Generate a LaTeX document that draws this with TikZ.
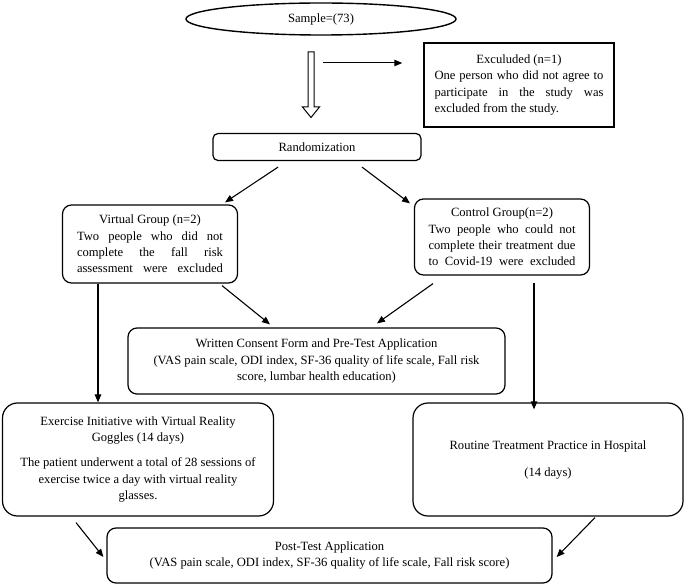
\documentclass[tikz,border=0pt]{standalone}
\usepackage{fontspec}
\setmainfont{Liberation Serif}
\usetikzlibrary{shapes.geometric,arrows.meta}
\newcommand{\fillline}[1]{\makebox[\linewidth][s]{\spaceskip=0pt\xspaceskip=0pt #1}}

\begin{document}
\begin{tikzpicture}[x=1pt, y=-1pt,
    every node/.style = {font=\fontsize{12.6}{16.3}\selectfont, execute at begin node={\spaceskip=0pt\xspaceskip=0pt}},
    box/.style = {draw, line width=1.2pt, rounded corners=9pt, align=center, inner sep=0pt},
    arr/.style = {-{Triangle[length=8pt,width=6.5pt]}, line width=1.1pt}]
  \useasboundingbox (0,0) rectangle (685,585);
  % top part
  \node[draw, ellipse, line width=1.4pt, minimum width=270pt, minimum height=32pt, inner sep=0pt] (sample) at (321,19) {Sample=(73)};
  \node[draw, line width=1.5pt, align=justify, text width=169pt, minimum width=190pt, minimum height=84pt, inner sep=0pt] (excl) at (519,85)
    {\makebox[\linewidth]{Exculuded (n=1)}\\ \fillline{One person who did not agree to}\\ \fillline{participate in the study was}\\ excluded from the study.};
  \node[box, rounded corners=5pt, minimum width=208pt, minimum height=27pt] (rand) at (317,147) {Randomization};
  \node[box, align=justify, text width=146pt, minimum width=175pt, minimum height=78pt] (virt) at (150,244)
    {\makebox[\linewidth]{Virtual Group (n=2)}\\ \fillline{Two people who did not}\\ \fillline{complete the fall risk}\\ \fillline{assessment were excluded}};
  \node[box, align=justify, text width=147pt, minimum width=175pt, minimum height=76pt] (ctrl) at (502,237)
    {\makebox[\linewidth]{Control Group(n=2)}\\ \fillline{Two people who could not}\\ \fillline{complete their treatment due}\\ \fillline{to Covid-19 were excluded}};
  \node[box, minimum width=377pt, minimum height=66pt] (cons) at (316.5,361)
    {Written Consent Form and Pre-Test Application\\(VAS pain scale, ODI index, SF-36 quality of life scale, Fall risk\\score, lumbar health education)};
  % groups
  \node[box, rounded corners=15pt, minimum width=271pt, minimum height=113pt] (exer) at (138,459.5)
    {Exercise Initiative with Virtual Reality\\Goggles (14 days)\\[8.5pt]The patient underwent a total of 28 sessions of\\exercise twice a day with virtual reality\\glasses.};
  \node[box, rounded corners=15pt, minimum width=270pt, minimum height=113pt] (rout) at (548,459.5)
    {Routine Treatment Practice in Hospital\\[10.7pt](14 days)};
  \node[box, minimum width=445pt, minimum height=55pt] (post) at (329.5,555.5)
    {Post-Test Application\\(VAS pain scale, ODI index, SF-36 quality of life scale, Fall risk score)};

  % hollow arrow and exclusion arrow
  \coordinate (hol) at (311,52);
  \coordinate (brk) at (323,63);
  \draw[line width=1pt] (hol) ++(-3,0) -- ++(0,55) -- ++(-5.5,0) -- ++(8.5,10.5) -- ++(8.5,-10.5) -- ++(-5.5,0) -- ++(0,-55) -- cycle;
  \draw[arr, line width=1pt] (brk) -- ([xshift=-21pt]brk -| excl.west);

  \draw[arr] ([shift={(-39,6)}]rand.south) -- ([shift={(75,-2)}]virt.north);
  \draw[arr] ([shift={(45,6)}]rand.south) -- ([shift={(-92,5)}]ctrl.north);
  \draw[arr] ([shift={(72,2)}]virt.south) -- ([shift={(-46.5,-3)}]cons.north);
  \draw[arr] ([shift={(-69,8)}]ctrl.south) -- ([shift={(60.5,-4)}]cons.north);
  \draw[arr] ([xshift=-52pt]virt.south) -- ([xshift=-52pt]virt.south |- exer.north);
  \draw[arr] ([shift={(32,7)}]ctrl.south) -- ([shift={(32,7)}]ctrl.south |- rout.north);
  \draw[arr] ([shift={(-62,6)}]exer.south) -- ([shift={(-3,1.5)}]post.west);
  \draw[arr] ([shift={(47,1)}]rout.south) -- ([shift={(4,1.5)}]post.east);
\end{tikzpicture}
\end{document}
